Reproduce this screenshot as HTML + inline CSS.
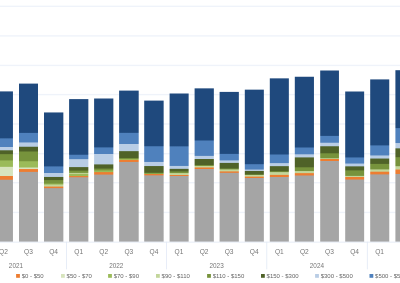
<!DOCTYPE html>
<html><head><meta charset="utf-8"><style>
html,body{margin:0;padding:0;background:#fff;width:400px;height:283px;overflow:hidden}
svg{display:block;will-change:transform}
.t{font-family:"Liberation Sans",sans-serif;font-size:6.6px;fill:#767676;text-anchor:middle}
.l{font-family:"Liberation Sans",sans-serif;font-size:6px;fill:#666666}
.y{font-family:"Liberation Sans",sans-serif;font-size:7.6px;fill:#767676;text-anchor:middle}
</style></head><body>
<svg width="400" height="283" viewBox="0 0 400 283">
<rect x="0" y="5.65" width="400" height="1.4" fill="#EFF3FA"/>
<rect x="0" y="35.20" width="400" height="1.4" fill="#EFF3FA"/>
<rect x="0" y="64.75" width="400" height="1.4" fill="#EFF3FA"/>
<rect x="0" y="93.90" width="400" height="1.4" fill="#EFF3FA"/>
<rect x="0" y="123.30" width="400" height="1.4" fill="#EFF3FA"/>
<rect x="0" y="153.00" width="400" height="1.4" fill="#EFF3FA"/>
<rect x="0" y="182.00" width="400" height="1.4" fill="#EFF3FA"/>
<rect x="0" y="211.75" width="400" height="1.4" fill="#EFF3FA"/>
<linearGradient id="g0" gradientUnits="userSpaceOnUse" x1="0" y1="0" x2="0" y2="283"><stop offset="0.32297" stop-color="#1F497D"/><stop offset="0.48710" stop-color="#1F497D"/><stop offset="0.49064" stop-color="#4F81BD"/><stop offset="0.51767" stop-color="#4F81BD"/><stop offset="0.52120" stop-color="#B9CDE5"/><stop offset="0.52933" stop-color="#B9CDE5"/><stop offset="0.53286" stop-color="#4F6228"/><stop offset="0.54293" stop-color="#4F6228"/><stop offset="0.54647" stop-color="#77933C"/><stop offset="0.56519" stop-color="#77933C"/><stop offset="0.56873" stop-color="#9BBB59"/><stop offset="0.58781" stop-color="#9BBB59"/><stop offset="0.59134" stop-color="#D7E4BD"/><stop offset="0.62014" stop-color="#D7E4BD"/><stop offset="0.62367" stop-color="#ED7D31"/><stop offset="0.63339" stop-color="#ED7D31"/><stop offset="0.63693" stop-color="#A5A5A5"/><stop offset="0.85777" stop-color="#A5A5A5"/></linearGradient>
<rect x="-6.25" y="91.40" width="19.20" height="150.35" fill="url(#g0)"/>
<linearGradient id="g1" gradientUnits="userSpaceOnUse" x1="0" y1="0" x2="0" y2="283"><stop offset="0.29541" stop-color="#1F497D"/><stop offset="0.46784" stop-color="#1F497D"/><stop offset="0.47138" stop-color="#4F81BD"/><stop offset="0.50159" stop-color="#4F81BD"/><stop offset="0.50512" stop-color="#B9CDE5"/><stop offset="0.51678" stop-color="#B9CDE5"/><stop offset="0.52032" stop-color="#4F6228"/><stop offset="0.53357" stop-color="#4F6228"/><stop offset="0.53710" stop-color="#77933C"/><stop offset="0.56802" stop-color="#77933C"/><stop offset="0.57155" stop-color="#9BBB59"/><stop offset="0.59011" stop-color="#9BBB59"/><stop offset="0.59364" stop-color="#D7E4BD"/><stop offset="0.59558" stop-color="#D7E4BD"/><stop offset="0.59912" stop-color="#ED7D31"/><stop offset="0.60565" stop-color="#ED7D31"/><stop offset="0.60919" stop-color="#A5A5A5"/><stop offset="0.85777" stop-color="#A5A5A5"/></linearGradient>
<rect x="19.00" y="83.60" width="19.00" height="158.15" fill="url(#g1)"/>
<linearGradient id="g2" gradientUnits="userSpaceOnUse" x1="0" y1="0" x2="0" y2="283"><stop offset="0.39735" stop-color="#1F497D"/><stop offset="0.58622" stop-color="#1F497D"/><stop offset="0.58975" stop-color="#4F81BD"/><stop offset="0.60954" stop-color="#4F81BD"/><stop offset="0.61307" stop-color="#B9CDE5"/><stop offset="0.62350" stop-color="#B9CDE5"/><stop offset="0.62703" stop-color="#4F6228"/><stop offset="0.63463" stop-color="#4F6228"/><stop offset="0.63816" stop-color="#77933C"/><stop offset="0.64700" stop-color="#77933C"/><stop offset="0.65053" stop-color="#9BBB59"/><stop offset="0.65053" stop-color="#9BBB59"/><stop offset="0.65406" stop-color="#C3D69B"/><stop offset="0.65760" stop-color="#C3D69B"/><stop offset="0.66113" stop-color="#ED7D31"/><stop offset="0.66307" stop-color="#ED7D31"/><stop offset="0.66661" stop-color="#A5A5A5"/><stop offset="0.85777" stop-color="#A5A5A5"/></linearGradient>
<rect x="44.00" y="112.45" width="19.35" height="129.30" fill="url(#g2)"/>
<linearGradient id="g3" gradientUnits="userSpaceOnUse" x1="0" y1="0" x2="0" y2="283"><stop offset="0.35018" stop-color="#1F497D"/><stop offset="0.54505" stop-color="#1F497D"/><stop offset="0.54859" stop-color="#4F81BD"/><stop offset="0.56060" stop-color="#4F81BD"/><stop offset="0.56413" stop-color="#B9CDE5"/><stop offset="0.58869" stop-color="#B9CDE5"/><stop offset="0.59223" stop-color="#4F6228"/><stop offset="0.60106" stop-color="#4F6228"/><stop offset="0.60459" stop-color="#77933C"/><stop offset="0.60919" stop-color="#77933C"/><stop offset="0.61272" stop-color="#C3D69B"/><stop offset="0.61272" stop-color="#C3D69B"/><stop offset="0.61625" stop-color="#9BBB59"/><stop offset="0.62032" stop-color="#9BBB59"/><stop offset="0.62385" stop-color="#ED7D31"/><stop offset="0.62456" stop-color="#ED7D31"/><stop offset="0.62809" stop-color="#A5A5A5"/><stop offset="0.85777" stop-color="#A5A5A5"/></linearGradient>
<rect x="69.10" y="99.10" width="19.25" height="142.65" fill="url(#g3)"/>
<linearGradient id="g4" gradientUnits="userSpaceOnUse" x1="0" y1="0" x2="0" y2="283"><stop offset="0.34806" stop-color="#1F497D"/><stop offset="0.51908" stop-color="#1F497D"/><stop offset="0.52261" stop-color="#4F81BD"/><stop offset="0.54240" stop-color="#4F81BD"/><stop offset="0.54594" stop-color="#B9CDE5"/><stop offset="0.57915" stop-color="#B9CDE5"/><stop offset="0.58269" stop-color="#4F6228"/><stop offset="0.59399" stop-color="#4F6228"/><stop offset="0.59753" stop-color="#77933C"/><stop offset="0.60035" stop-color="#77933C"/><stop offset="0.60389" stop-color="#9BBB59"/><stop offset="0.60636" stop-color="#9BBB59"/><stop offset="0.60989" stop-color="#ED7D31"/><stop offset="0.61519" stop-color="#ED7D31"/><stop offset="0.61873" stop-color="#A5A5A5"/><stop offset="0.85777" stop-color="#A5A5A5"/></linearGradient>
<rect x="94.10" y="98.50" width="19.25" height="143.25" fill="url(#g4)"/>
<linearGradient id="g5" gradientUnits="userSpaceOnUse" x1="0" y1="0" x2="0" y2="283"><stop offset="0.32014" stop-color="#1F497D"/><stop offset="0.46767" stop-color="#1F497D"/><stop offset="0.47120" stop-color="#4F81BD"/><stop offset="0.50707" stop-color="#4F81BD"/><stop offset="0.51060" stop-color="#B9CDE5"/><stop offset="0.53233" stop-color="#B9CDE5"/><stop offset="0.53587" stop-color="#4F6228"/><stop offset="0.55671" stop-color="#4F6228"/><stop offset="0.56025" stop-color="#77933C"/><stop offset="0.56025" stop-color="#77933C"/><stop offset="0.56325" stop-color="#9BBB59"/><stop offset="0.56325" stop-color="#9BBB59"/><stop offset="0.56625" stop-color="#ED7D31"/><stop offset="0.57049" stop-color="#ED7D31"/><stop offset="0.57403" stop-color="#A5A5A5"/><stop offset="0.85777" stop-color="#A5A5A5"/></linearGradient>
<rect x="119.10" y="90.60" width="19.60" height="151.15" fill="url(#g5)"/>
<linearGradient id="g6" gradientUnits="userSpaceOnUse" x1="0" y1="0" x2="0" y2="283"><stop offset="0.35548" stop-color="#1F497D"/><stop offset="0.51502" stop-color="#1F497D"/><stop offset="0.51855" stop-color="#4F81BD"/><stop offset="0.57049" stop-color="#4F81BD"/><stop offset="0.57403" stop-color="#B9CDE5"/><stop offset="0.58498" stop-color="#B9CDE5"/><stop offset="0.58852" stop-color="#4F6228"/><stop offset="0.60866" stop-color="#4F6228"/><stop offset="0.61219" stop-color="#77933C"/><stop offset="0.61219" stop-color="#77933C"/><stop offset="0.61413" stop-color="#9BBB59"/><stop offset="0.61413" stop-color="#9BBB59"/><stop offset="0.61625" stop-color="#ED7D31"/><stop offset="0.61784" stop-color="#ED7D31"/><stop offset="0.62138" stop-color="#A5A5A5"/><stop offset="0.85777" stop-color="#A5A5A5"/></linearGradient>
<rect x="144.20" y="100.60" width="19.45" height="141.15" fill="url(#g6)"/>
<linearGradient id="g7" gradientUnits="userSpaceOnUse" x1="0" y1="0" x2="0" y2="283"><stop offset="0.33039" stop-color="#1F497D"/><stop offset="0.51537" stop-color="#1F497D"/><stop offset="0.51890" stop-color="#4F81BD"/><stop offset="0.58463" stop-color="#4F81BD"/><stop offset="0.58816" stop-color="#B9CDE5"/><stop offset="0.59488" stop-color="#B9CDE5"/><stop offset="0.59841" stop-color="#4F6228"/><stop offset="0.60406" stop-color="#4F6228"/><stop offset="0.60760" stop-color="#77933C"/><stop offset="0.60989" stop-color="#77933C"/><stop offset="0.61343" stop-color="#C3D69B"/><stop offset="0.61661" stop-color="#C3D69B"/><stop offset="0.62014" stop-color="#ED7D31"/><stop offset="0.62014" stop-color="#ED7D31"/><stop offset="0.62314" stop-color="#A5A5A5"/><stop offset="0.85777" stop-color="#A5A5A5"/></linearGradient>
<rect x="169.60" y="93.50" width="19.05" height="148.25" fill="url(#g7)"/>
<linearGradient id="g8" gradientUnits="userSpaceOnUse" x1="0" y1="0" x2="0" y2="283"><stop offset="0.31219" stop-color="#1F497D"/><stop offset="0.49470" stop-color="#1F497D"/><stop offset="0.49823" stop-color="#4F81BD"/><stop offset="0.54912" stop-color="#4F81BD"/><stop offset="0.55265" stop-color="#B9CDE5"/><stop offset="0.56007" stop-color="#B9CDE5"/><stop offset="0.56360" stop-color="#4F6228"/><stop offset="0.58127" stop-color="#4F6228"/><stop offset="0.58481" stop-color="#77933C"/><stop offset="0.58481" stop-color="#77933C"/><stop offset="0.58799" stop-color="#C3D69B"/><stop offset="0.59011" stop-color="#C3D69B"/><stop offset="0.59364" stop-color="#ED7D31"/><stop offset="0.59541" stop-color="#ED7D31"/><stop offset="0.59894" stop-color="#A5A5A5"/><stop offset="0.85777" stop-color="#A5A5A5"/></linearGradient>
<rect x="194.60" y="88.35" width="19.25" height="153.40" fill="url(#g8)"/>
<linearGradient id="g9" gradientUnits="userSpaceOnUse" x1="0" y1="0" x2="0" y2="283"><stop offset="0.32473" stop-color="#1F497D"/><stop offset="0.54205" stop-color="#1F497D"/><stop offset="0.54558" stop-color="#4F81BD"/><stop offset="0.56502" stop-color="#4F81BD"/><stop offset="0.56855" stop-color="#B9CDE5"/><stop offset="0.57385" stop-color="#B9CDE5"/><stop offset="0.57739" stop-color="#4F6228"/><stop offset="0.59364" stop-color="#4F6228"/><stop offset="0.59717" stop-color="#77933C"/><stop offset="0.59717" stop-color="#77933C"/><stop offset="0.60035" stop-color="#C3D69B"/><stop offset="0.60389" stop-color="#C3D69B"/><stop offset="0.60742" stop-color="#ED7D31"/><stop offset="0.60901" stop-color="#ED7D31"/><stop offset="0.61254" stop-color="#A5A5A5"/><stop offset="0.85777" stop-color="#A5A5A5"/></linearGradient>
<rect x="219.60" y="91.90" width="19.25" height="149.85" fill="url(#g9)"/>
<linearGradient id="g10" gradientUnits="userSpaceOnUse" x1="0" y1="0" x2="0" y2="283"><stop offset="0.31678" stop-color="#1F497D"/><stop offset="0.57845" stop-color="#1F497D"/><stop offset="0.58198" stop-color="#4F81BD"/><stop offset="0.59735" stop-color="#4F81BD"/><stop offset="0.60088" stop-color="#B9CDE5"/><stop offset="0.60230" stop-color="#B9CDE5"/><stop offset="0.60583" stop-color="#4F6228"/><stop offset="0.61449" stop-color="#4F6228"/><stop offset="0.61802" stop-color="#77933C"/><stop offset="0.61802" stop-color="#77933C"/><stop offset="0.61961" stop-color="#C3D69B"/><stop offset="0.62244" stop-color="#C3D69B"/><stop offset="0.62597" stop-color="#ED7D31"/><stop offset="0.62721" stop-color="#ED7D31"/><stop offset="0.63074" stop-color="#A5A5A5"/><stop offset="0.85777" stop-color="#A5A5A5"/></linearGradient>
<rect x="244.80" y="89.65" width="19.05" height="152.10" fill="url(#g10)"/>
<linearGradient id="g11" gradientUnits="userSpaceOnUse" x1="0" y1="0" x2="0" y2="283"><stop offset="0.27686" stop-color="#1F497D"/><stop offset="0.54417" stop-color="#1F497D"/><stop offset="0.54770" stop-color="#4F81BD"/><stop offset="0.57456" stop-color="#4F81BD"/><stop offset="0.57809" stop-color="#B9CDE5"/><stop offset="0.58534" stop-color="#B9CDE5"/><stop offset="0.58887" stop-color="#4F6228"/><stop offset="0.60353" stop-color="#4F6228"/><stop offset="0.60707" stop-color="#77933C"/><stop offset="0.60707" stop-color="#77933C"/><stop offset="0.60989" stop-color="#C3D69B"/><stop offset="0.61625" stop-color="#C3D69B"/><stop offset="0.61979" stop-color="#ED7D31"/><stop offset="0.62367" stop-color="#ED7D31"/><stop offset="0.62721" stop-color="#A5A5A5"/><stop offset="0.85777" stop-color="#A5A5A5"/></linearGradient>
<rect x="269.80" y="78.35" width="19.05" height="163.40" fill="url(#g11)"/>
<linearGradient id="g12" gradientUnits="userSpaceOnUse" x1="0" y1="0" x2="0" y2="283"><stop offset="0.27120" stop-color="#1F497D"/><stop offset="0.51943" stop-color="#1F497D"/><stop offset="0.52297" stop-color="#4F81BD"/><stop offset="0.54346" stop-color="#4F81BD"/><stop offset="0.54700" stop-color="#B9CDE5"/><stop offset="0.55442" stop-color="#B9CDE5"/><stop offset="0.55795" stop-color="#4F6228"/><stop offset="0.58940" stop-color="#4F6228"/><stop offset="0.59293" stop-color="#77933C"/><stop offset="0.60265" stop-color="#77933C"/><stop offset="0.60618" stop-color="#C3D69B"/><stop offset="0.61007" stop-color="#C3D69B"/><stop offset="0.61360" stop-color="#ED7D31"/><stop offset="0.61837" stop-color="#ED7D31"/><stop offset="0.62191" stop-color="#A5A5A5"/><stop offset="0.85777" stop-color="#A5A5A5"/></linearGradient>
<rect x="294.80" y="76.75" width="19.15" height="165.00" fill="url(#g12)"/>
<linearGradient id="g13" gradientUnits="userSpaceOnUse" x1="0" y1="0" x2="0" y2="283"><stop offset="0.24912" stop-color="#1F497D"/><stop offset="0.47845" stop-color="#1F497D"/><stop offset="0.48198" stop-color="#4F81BD"/><stop offset="0.50265" stop-color="#4F81BD"/><stop offset="0.50618" stop-color="#B9CDE5"/><stop offset="0.51502" stop-color="#B9CDE5"/><stop offset="0.51855" stop-color="#4F6228"/><stop offset="0.53993" stop-color="#4F6228"/><stop offset="0.54346" stop-color="#77933C"/><stop offset="0.55742" stop-color="#77933C"/><stop offset="0.56095" stop-color="#C3D69B"/><stop offset="0.56095" stop-color="#C3D69B"/><stop offset="0.56360" stop-color="#ED7D31"/><stop offset="0.56714" stop-color="#ED7D31"/><stop offset="0.57067" stop-color="#A5A5A5"/><stop offset="0.85777" stop-color="#A5A5A5"/></linearGradient>
<rect x="320.20" y="70.50" width="18.75" height="171.25" fill="url(#g13)"/>
<linearGradient id="g14" gradientUnits="userSpaceOnUse" x1="0" y1="0" x2="0" y2="283"><stop offset="0.32332" stop-color="#1F497D"/><stop offset="0.55459" stop-color="#1F497D"/><stop offset="0.55813" stop-color="#4F81BD"/><stop offset="0.57615" stop-color="#4F81BD"/><stop offset="0.57968" stop-color="#B9CDE5"/><stop offset="0.58604" stop-color="#B9CDE5"/><stop offset="0.58958" stop-color="#4F6228"/><stop offset="0.60035" stop-color="#4F6228"/><stop offset="0.60389" stop-color="#77933C"/><stop offset="0.61979" stop-color="#77933C"/><stop offset="0.62332" stop-color="#C3D69B"/><stop offset="0.62367" stop-color="#C3D69B"/><stop offset="0.62721" stop-color="#ED7D31"/><stop offset="0.63269" stop-color="#ED7D31"/><stop offset="0.63622" stop-color="#A5A5A5"/><stop offset="0.85777" stop-color="#A5A5A5"/></linearGradient>
<rect x="345.20" y="91.50" width="18.95" height="150.25" fill="url(#g14)"/>
<linearGradient id="g15" gradientUnits="userSpaceOnUse" x1="0" y1="0" x2="0" y2="283"><stop offset="0.28057" stop-color="#1F497D"/><stop offset="0.51201" stop-color="#1F497D"/><stop offset="0.51555" stop-color="#4F81BD"/><stop offset="0.54753" stop-color="#4F81BD"/><stop offset="0.55106" stop-color="#B9CDE5"/><stop offset="0.55848" stop-color="#B9CDE5"/><stop offset="0.56201" stop-color="#4F6228"/><stop offset="0.57739" stop-color="#4F6228"/><stop offset="0.58092" stop-color="#77933C"/><stop offset="0.59682" stop-color="#77933C"/><stop offset="0.60035" stop-color="#C3D69B"/><stop offset="0.60495" stop-color="#C3D69B"/><stop offset="0.60848" stop-color="#ED7D31"/><stop offset="0.61449" stop-color="#ED7D31"/><stop offset="0.61802" stop-color="#A5A5A5"/><stop offset="0.85777" stop-color="#A5A5A5"/></linearGradient>
<rect x="370.20" y="79.40" width="19.05" height="162.35" fill="url(#g15)"/>
<linearGradient id="g16" gradientUnits="userSpaceOnUse" x1="0" y1="0" x2="0" y2="283"><stop offset="0.24806" stop-color="#1F497D"/><stop offset="0.45088" stop-color="#1F497D"/><stop offset="0.45442" stop-color="#4F81BD"/><stop offset="0.50371" stop-color="#4F81BD"/><stop offset="0.50724" stop-color="#B9CDE5"/><stop offset="0.52244" stop-color="#B9CDE5"/><stop offset="0.52597" stop-color="#4F6228"/><stop offset="0.55371" stop-color="#4F6228"/><stop offset="0.55724" stop-color="#77933C"/><stop offset="0.58551" stop-color="#77933C"/><stop offset="0.58905" stop-color="#C3D69B"/><stop offset="0.59735" stop-color="#C3D69B"/><stop offset="0.60088" stop-color="#ED7D31"/><stop offset="0.61290" stop-color="#ED7D31"/><stop offset="0.61643" stop-color="#A5A5A5"/><stop offset="0.85777" stop-color="#A5A5A5"/></linearGradient>
<rect x="395.40" y="70.20" width="19.10" height="171.55" fill="url(#g16)"/>
<rect x="0" y="241.75" width="400" height="0.7" fill="#DCE4F2"/>
<rect x="66.05" y="241.75" width="0.8" height="27.6" fill="#E2E9F6"/>
<rect x="166.10" y="241.75" width="0.8" height="27.6" fill="#E2E9F6"/>
<rect x="266.40" y="241.75" width="0.8" height="27.6" fill="#E2E9F6"/>
<rect x="366.90" y="241.75" width="0.8" height="27.6" fill="#E2E9F6"/>
<text x="3.42" y="253.8" class="t">Q2</text>
<text x="28.50" y="253.8" class="t">Q3</text>
<text x="53.58" y="253.8" class="t">Q4</text>
<text x="78.66" y="253.8" class="t">Q1</text>
<text x="103.74" y="253.8" class="t">Q2</text>
<text x="128.82" y="253.8" class="t">Q3</text>
<text x="153.90" y="253.8" class="t">Q4</text>
<text x="178.98" y="253.8" class="t">Q1</text>
<text x="204.06" y="253.8" class="t">Q2</text>
<text x="229.14" y="253.8" class="t">Q3</text>
<text x="254.22" y="253.8" class="t">Q4</text>
<text x="279.30" y="253.8" class="t">Q1</text>
<text x="304.38" y="253.8" class="t">Q2</text>
<text x="329.46" y="253.8" class="t">Q3</text>
<text x="354.54" y="253.8" class="t">Q4</text>
<text x="379.62" y="253.8" class="t">Q1</text>
<text x="404.70" y="253.8" class="t">Q2</text>
<text x="15.96" y="267.9" class="y" textLength="14.2" lengthAdjust="spacingAndGlyphs">2021</text>
<text x="116.28" y="267.9" class="y" textLength="14.2" lengthAdjust="spacingAndGlyphs">2022</text>
<text x="216.60" y="267.9" class="y" textLength="14.2" lengthAdjust="spacingAndGlyphs">2023</text>
<text x="316.92" y="267.9" class="y" textLength="14.2" lengthAdjust="spacingAndGlyphs">2024</text>
<text x="417.24" y="267.9" class="y" textLength="14.2" lengthAdjust="spacingAndGlyphs">2025</text>
<rect x="16.10" y="274" width="3.8" height="3.8" fill="#ED7D31"/>
<text x="21.70" y="278.1" class="l">$0 - $50</text>
<rect x="61.00" y="274" width="3.8" height="3.8" fill="#D7E4BD"/>
<text x="66.60" y="278.1" class="l">$50 - $70</text>
<rect x="108.10" y="274" width="3.8" height="3.8" fill="#9BBB59"/>
<text x="113.70" y="278.1" class="l">$70 - $90</text>
<rect x="156.00" y="274" width="3.8" height="3.8" fill="#C3D69B"/>
<text x="161.60" y="278.1" class="l">$90 - $110</text>
<rect x="207.10" y="274" width="3.8" height="3.8" fill="#77933C"/>
<text x="212.70" y="278.1" class="l">$110 - $150</text>
<rect x="261.00" y="274" width="3.8" height="3.8" fill="#4F6228"/>
<text x="266.60" y="278.1" class="l">$150 - $300</text>
<rect x="315.10" y="274" width="3.8" height="3.8" fill="#B9CDE5"/>
<text x="320.70" y="278.1" class="l">$300 - $500</text>
<rect x="369.50" y="274" width="3.8" height="3.8" fill="#4F81BD"/>
<text x="375.10" y="278.1" class="l">$500 - $5,000</text>
</svg>
</body></html>
